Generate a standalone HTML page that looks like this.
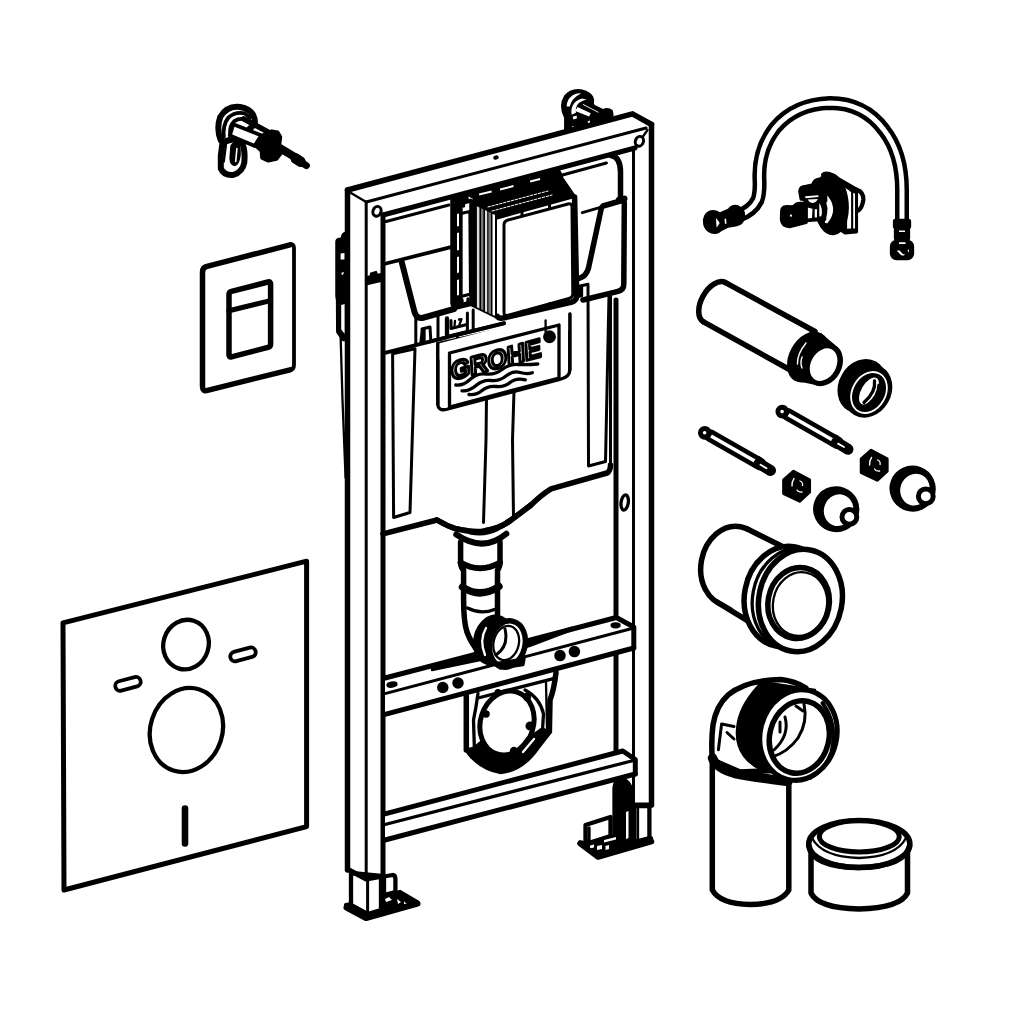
<!DOCTYPE html>
<html lang="en">
<head>
<meta charset="utf-8">
<title>GROHE Rapid SL installation frame - exploded view</title>
<style>
html,body{margin:0;padding:0;background:#fff;}
body{width:1024px;height:1024px;overflow:hidden;font-family:"Liberation Sans",sans-serif;}
svg{display:block;}
.l{fill:none;stroke:#000;stroke-linecap:round;stroke-linejoin:round;}
.w{fill:#fff;stroke:#000;stroke-linecap:round;stroke-linejoin:round;}
.b{fill:#000;stroke:#000;stroke-linecap:round;stroke-linejoin:round;}
.s2{stroke-width:2.3;}
.s25{stroke-width:3;}
.s3{stroke-width:3.3;}
.s35{stroke-width:3.8;}
.s4{stroke-width:4.3;}
.s45{stroke-width:5;}
.s5{stroke-width:5.5;}
.s6{stroke-width:6;}
</style>
</head>
<body>
<svg width="1024" height="1024" viewBox="0 0 1024 1024">
<rect x="0" y="0" width="1024" height="1024" fill="#fff"/>

<!-- ============ FRAME ============ -->
<g id="frame">
<!-- FRAME-BEHIND -->
<g id="wallbracket-top">
<path class="b s2" d="M 565.2 117.5 Q 559.0 105.8 565.2 96.0 Q 572.7 87.8 584.4 91.3 Q 590.2 93.4 592.2 97.3 Q 593.8 100.5 592.8 103.6 L 593.8 105.9 L 603.1 110.3 Q 607.8 107.7 611.7 110.9 L 612.5 115.2 L 610.9 117.5 L 612.5 119.1 L 565.2 130.4 Z"/>
<path fill="#fff" d="M 566.6 106.6 Q 566.6 99.5 572.7 95.2 Q 576.6 92.9 580.9 93.4 Q 575.8 95.8 572.8 99.7 Q 570.2 103.4 569.8 106.6 Z"/>
<path fill="#fff" d="M 571.7 114.8 Q 570.5 108.1 574.2 103.3 Q 577.3 99.5 582.4 98.6 L 586.7 99.7 Q 581.2 100.5 578.3 103.6 Q 575.2 107.3 575.9 112.8 Z"/>
<path fill="#fff" d="M 577.5 107.0 L 590.8 113.2 L 589.1 116.6 L 575.2 111.1 Z"/>
<path fill="#fff" d="M 583.2 103.9 L 598.6 112.0 L 598.3 112.8 L 582.8 104.8 Z"/>
<path fill="#fff" d="M 572.7 116.7 L 576.6 115.5 L 577.0 118.3 L 573.4 119.5 Z M 587.5 121.4 L 589.8 120.6 L 590.2 122.8 L 588.1 123.4 Z M 571.9 126.5 L 573.4 125.9 L 573.8 127.5 L 572.2 128.0 Z"/>
</g>
<g id="sidebracket">
<path class="l s2" d="M340.6 336 L342.5 400 L345.6 478"/>
<path class="b s2" d="M336.4 242 Q336.4 239.5 339 239 L342 238 Q342 233.5 346 233 L347.5 233 L347.5 340 L343 340 L337.2 332 L337 300 L336.4 296 Z"/>
<path fill="#fff" d="M340.6 253.5 L344.6 253 L344.6 259.4 L340.6 259.6 Z M341.6 272.5 L344 272.2 L343 274.8 L341.6 274.8 Z M341.2 305 L344.8 304 L344.8 334 L341.2 329.5 Z"/>
</g>
<!-- FRAME-BACK -->
<!-- fills -->
<path fill="#fff" d="M347.5 190 L632.5 113.8 L651.5 124.5 L651.5 805 L633.5 805 L633.5 760 L616 751 L616 153 L383 214.5 L383 874 L366 877 L347.5 870 Z"/>
<!-- left post -->
<path class="l s5" d="M347.5 190 L347.5 870"/>
<path class="l s25" d="M366.2 202 L366.2 879"/>
<path class="l s45" d="M383 215 L383 875"/>
<!-- right post -->
<path class="l s5" d="M651.5 124.5 L651.5 805"/>
<path class="l s25" d="M633.5 150 L633.5 805"/>
<path class="l s45" d="M616 300 L616 751"/>
<!-- top bar -->
<path class="l s5" d="M347.5 190 L632.5 113.8 L651.5 124.5"/>
<path class="l s25" d="M366.2 202 L646 128"/>
<path class="l s45" d="M383 215 L635 148"/>
<path class="l s2" d="M351 193 L366.2 202"/>
<path class="l s2" d="M635 148 L647.5 130"/>
<ellipse class="w s25" cx="377" cy="211.3" rx="4" ry="5" transform="rotate(20 377 211.3)"/>
<ellipse class="w s25" cx="639.4" cy="141.3" rx="4" ry="5" transform="rotate(20 639.4 141.3)"/>
<ellipse class="b s2" cx="496" cy="157.5" rx="1.6" ry="1" transform="rotate(-15 496 157.5)"/>
<path class="b s2" d="M367.5 277 L371 276 L371 273.5 L376 272 L377 275 L381 274 L381 281 L368 284 Z"/>
<!-- FRAME-END -->
<!-- CISTERN -->
<g id="cistern">
<!-- upper plate -->
<path class="l s25" d="M386 221.5 L449 205"/>
<path class="l s35" d="M386 263.5 L450 247.3"/>
<path class="l s6" d="M401.7 262 L414.5 312 Q416.5 319.5 424 317.5 L454 309"/>
<!-- right top corner -->
<path class="l s5" d="M611 155.5 Q620.5 157 620.5 172 L620.5 199"/>
<path class="l s25" d="M561.6 175.2 L606.4 163"/>
<path class="l s25" d="M582.3 212.6 L603 206.6"/>
<path class="l s5" d="M603 206 L622 200.5 Q624.5 200 624.3 204 L623.8 284 Q623.8 290 618 291.3 L583 300"/>
<path class="l s5" d="M601.4 208 L588.5 268 Q586.5 276 579 278.5"/>
<path class="l s6" d="M619 199.8 L624.5 198.6"/>
<!-- lower body -->
<path class="l s35" d="M386 352.7 L445.7 337.6"/>
<path class="l s35" d="M459 334.4 L504 323.5"/>
<path class="l s5" d="M383 533.8 L437 520 Q447 526 456 528.8 Q470 532 481 531.5 Q500 529 511 520 Q522 512 531 505 Q541 495 551 488.8 L607 473 Q610.5 471 610.5 465"/>
<path class="l s25" d="M610.5 466 L610.5 296"/>
<!-- side panels -->
<path class="l s25" d="M392.6 353.8 L393.6 517.5 L410 512.5 L415 348.8 Z"/>
<path class="l s25" d="M588 286 L588.5 466 L605.5 461.5 L609 295"/>
<!-- channel -->
<path class="l s25" d="M486.5 397.5 L486 440 L483.5 522.5"/>
<path class="l s25" d="M514 391 L512.5 440 L513.5 517.5"/>
<!-- small details under wings -->
<path class="l s25" d="M415.8 343.5 L415.8 318"/>
<path class="l s25" d="M438 339.5 L438 316"/>
<path class="l s25" d="M457.4 334.5 L457.4 352"/>
<path class="b s2" d="M420.5 342.5 L422 329 L424.5 328 L424.5 341.5 Z"/>
<path class="l s25" d="M422 329 L430 327 L430.8 340"/>
<path class="l s4" d="M447 318.5 L447 337"/>
<path class="l s25" d="M447 336.5 L467.4 331.5 L467.4 313"/>
<path class="l s25" d="M451 320.5 L451 328.5 L466 324.8"/>
<path class="l s2" d="M455 321 L454.5 326 M459 319.5 L461.5 319.2 L459.5 324.5"/>
<path class="l s25" d="M473.2 310 L473.2 330"/>
<path class="b s2" d="M577 287 L577 297 L582 296 L582 286 Z"/>
<path class="l s25" d="M579 286.3 L588 284.3"/>
<!-- hole on right post -->
<ellipse class="w s3" cx="624.7" cy="502.5" rx="3.6" ry="7.6" transform="rotate(8 624.7 502.5)"/>
</g>
<!-- CISTERN-END -->
<!-- LABEL -->
<g id="label">
<path class="w s3" d="M437.8 343.5 L437.8 404 Q438 411 446 409.5 L559.7 379.5 Q569.8 377 569.8 370 L569.8 314 L437.8 343.5 Z" />
<path fill="#fff" d="M437.8 343.8 L569.8 309 L569.8 330 L437.8 360 Z"/>
<path class="l s35" d="M430 341.5 L504 323.2"/>
<path class="l s3" d="M437.8 343.5 L437.8 404"/>
<path class="l s3" d="M569.8 314 L569.8 370"/>
<path class="w s3" d="M449.5 353 L559 325 L559 378 L449.5 407 Z"/>
<g style="filter:grayscale(1)"><text x="0" y="0" transform="matrix(1 -0.268 0.06 1 451.5 380.5)" font-family="'Liberation Sans',sans-serif" font-weight="bold" font-size="26" fill="#fff" stroke="#000" stroke-width="3.1" stroke-linejoin="round" textLength="90" lengthAdjust="spacingAndGlyphs">GROHE</text></g>
<circle class="b s2" cx="549.5" cy="336.7" r="5.3"/>
<path class="l s2" d="M545.6 320.5 L545.6 332"/>
<path class="l s3" d="M455.8 385 Q463 386 470 379.5 T486 374 T502 369.5 T518 364.5 T537.8 364"/>
<path class="l s3" d="M462 390.8 Q469 391.5 476 385.5 T491 380.5 T506 376 T520 372.5 T532.3 372.8"/>
<path class="l s3" d="M469 394.5 Q476 395.5 482 390.5 T496 386.5 T510 382.5 T525.3 379.8"/>
</g>
<!-- LABEL-END -->
<!-- BOX -->
<g id="box">
<!-- left small bracket -->
<path class="w s5" d="M453 199 L453 303 Q453 307.5 458 306.5 L472 303 L472 195 Z"/>
<path class="b s2" d="M453 199 L461.5 197 L461.5 304 L455 305.5 Z"/>
<path fill="#fff" d="M457 214 L459 213.5 L459 226 L457 226.5 Z M457 233 L459 232.5 L459 250 L457 250.5 Z M457 257 L459 256.5 L459 272.5 L457 273 Z M457 280 L459 279.5 L459 295 L457 295.5 Z"/>
<path class="l s3" d="M463 213 L470 211.5 L470.6 294 L463 296"/>
<path class="l s3" d="M459 200.5 L459 208 M463.5 199.5 L463.5 206 M462 300 L462 305 M468 299 L468 303.5"/>
<!-- box top (black) -->
<path class="b s3" d="M471.5 199 L558.8 174 L574 196 L497 217.5 Z"/>
<path class="b s4" d="M456 199.5 L474.4 194 L558.8 172 L561 176 L474.4 200 L456 204 Z"/>
<path fill="#fff" d="M479 193.6 L491.5 190.4 L491.7 192.4 L479.2 195.6 Z M500 188.6 L513.4 185 L513.6 187 L500.2 190.6 Z M530 180.6 L540 178 L540.2 180 L530.2 182.6 Z"/>
<path fill="#fff" d="M468.5 196.5 L472.5 198.5 L472.5 200.5 L468.5 198.5 Z"/>
<path class="l" stroke-width="1" stroke-dasharray="2.5 1.5" style="stroke:#fff" d="M488 207 L548 191 M492 211 L552 195"/>
<!-- left striped side -->
<path fill="#000" d="M470.3 198 L497 216.5 L497 319 L470.3 306 Z"/>
<path fill="#ddd" d="M476.9 206.2 L479.4 207.4 L479.4 308.5 L476.9 307.3 Z"/>
<path fill="#777" d="M481 208.2 L483.4 209.4 L483.4 310.5 L481 309.3 Z"/>
<path fill="#ddd" d="M485 210.1 L487.2 211.2 L487.2 312.3 L485 311.2 Z"/>
<path fill="#777" d="M488.4 211.8 L491 213.0 L491 314.1 L488.4 312.9 Z"/>
<path fill="#fff" d="M492.5 213.7 L495 214.9 L495 316.0 L492.5 314.8 Z"/>
<!-- front face -->
<path fill="#fff" d="M497 218.5 L574.4 197.5 L576.7 300.6 L497 319.5 Z"/>
<path class="l s25" d="M497 218 L574.4 196.5"/>
<path class="l s5" d="M574.6 197 L576.7 295.5 Q576.7 300.6 572 302 L504.4 317.8 Q499 319 497.4 316.5"/>
<path class="l s25" d="M504 225 Q504 221 508 220 L568 204 Q572 203 572 207 L572.8 294 Q572.8 297.5 569 298.5 L508 315.3 Q504 316.3 504 312.3 Z"/>
<path class="l s25" d="M522 210.5 L522 215.5 M549.5 203 L549.5 208.5 M523 313.5 L523 311 M550 306.5 L550 303.5"/>
</g>
<!-- BOX-END -->
<!-- FEET -->
<g id="feet">
<!-- left foot -->
<path class="b s4" d="M346 905 L366 916 L417 902 L400 892 L383 896 L383 908 L367.6 912 L351 904 Z"/>
<path class="w s4" d="M351 873 L351 905 L367.6 914 L381 910 L381 876 Z"/>
<path class="l s25" d="M367.6 880 L367.6 914"/>
<path class="l s45" d="M347.6 869.3 L366.1 879 L383 876"/>
<path class="w s4" d="M384 876.5 L392.5 875 Q395.4 875 395.4 879 L395.4 892 L384 895 Z"/>
<path class="b s2" d="M384 897 L400 893 L414 902 L384 910 Z"/>
<path fill="#fff" d="M385 899 L389 897 L392 900 L386 902 Z M397 899 L401 902 L398 904 Z M404 901.5 L408 904.5 L404 905.5 Z"/>
<path class="l s6" d="M346.5 907.5 L366 918 L417.5 903.5"/>
<!-- right foot -->
<path class="w s4" d="M634.5 806 L634.5 842 L649.4 838 L649.4 806 Z"/>
<path class="l s2" d="M638 808 L638 840"/>
<path class="l s45" d="M633.5 805 L651.5 805"/>
<path class="b s3" d="M614 790 Q614 779 622 779 Q631 781 632 792 L632 842 L614 846 Z"/>
<path fill="#fff" d="M626 812 L628.5 811 L628.5 838 L626 839 Z"/>
<path class="w s4" d="M585.5 825 L610.5 817 L610.5 836 L588.5 843 L585.5 840 Z"/>
<path class="l s3" d="M589 828 L589 842"/>
<path class="b s3" d="M580 842 L598 856.5 L651.5 841 L651.5 838 L634 842 L612 846 L612 836 L588 843 Z"/>
<path fill="#fff" d="M590 845.5 L594 844.5 L594 847.5 L590 848.5 Z M597 846 L602 845 L602 849 L597 850 Z M604 840 L616 837 L616 839.5 L604 842.5 Z M605.5 846 L609 845 L609 849 L605.5 850 Z"/>
<path class="l s5" d="M580 843.5 L598 857 L651.5 841.5"/>
</g>
<!-- FEET-END -->
<!-- HOLDER -->
<g id="holder">
<path class="l s5" d="M466.3 696 L466.3 750"/>
<path class="l s3" d="M478 693.5 Q476 708 473.5 720 L474.4 749"/>
<path class="l s3" d="M480 697.5 L552.5 678.8"/>
<path class="l s5" d="M556 672.5 Q554 690 550 700 L549.4 731"/>
<path class="l s2" d="M546 682.5 L547 728"/>
<!-- ring -->
<path class="b s3" d="M466 750 Q478 768 500 772.5 Q522 771 538 748 L550.5 732 L542 729 Q534 735 528 738 Q515 757 500 755.5 Q487 754 481.5 742 L474 748 Z"/>
<ellipse class="l s45" cx="507" cy="723" rx="26.5" ry="32.5" transform="rotate(18 507 723)"/>
<path class="l s3" d="M525 690 Q540 698 543.5 714 L542.5 730"/>
<path class="l s2" style="stroke:#fff" d="M523 752 L534 739" stroke-width="1.8"/>
<circle class="b s2" cx="486" cy="714" r="2.6"/>
<circle class="b s2" cx="483" cy="745" r="3"/>
<circle class="b s2" cx="514" cy="751" r="3"/>
<circle class="b s2" cx="530" cy="726" r="3.4"/>
<circle class="b s2" cx="527" cy="697" r="3"/>
<circle class="b s2" cx="498" cy="692.5" r="2.4"/>
</g>
<!-- HOLDER-END -->
<!-- CROSSBARS -->
<g id="crossbars">
<!-- lower crossbar -->
<path fill="#fff" d="M385 813.8 L622.8 751 L635.3 759.5 L635.3 774 L385 840 Z"/>
<path class="l s45" d="M385 813.8 L622.8 751 L635.3 759.5 L635.3 774"/>
<path class="l s3" d="M385 824.5 L633.5 760.5"/>
<path class="l s45" d="M385 840 L635.3 774"/>
<!-- upper crossbar -->
<path fill="#fff" d="M385 678 L616.3 617.5 L633.8 627 L633.8 648 L385 714.4 Z"/>
<path class="l s45" d="M385 678 L616.3 617.5 L633.8 627 L633.8 648"/>
<path class="b s2" d="M432 667 L480 653.5 L530 641 L572 627.5 L572 630 L530 646 L480 660 L432 670 Z"/>
<path class="l s25" d="M385 693.6 L631 628.8"/>
<path class="l s45" d="M385 714.4 L633.8 648"/>
<ellipse class="b s2" cx="392" cy="684.6" rx="4.5" ry="2" transform="rotate(-8 392 684.6)"/>
<ellipse class="b s2" cx="615.6" cy="625.3" rx="4" ry="2" transform="rotate(0 615.6 625.3)"/>
<circle class="b s2" cx="442.8" cy="687.5" r="4.6"/>
<circle class="b s2" cx="458" cy="683" r="4.6"/>
<circle class="b s2" cx="560" cy="655.6" r="4.6"/>
<circle class="b s2" cx="574.4" cy="651.6" r="4.6"/>
</g>
<!-- CROSSBARS-END -->
<!-- PIPE -->
<g id="pipe">
<!-- neck flange -->
<!-- pipe body -->
<path fill="#fff" d="M460.6 543 L460.6 566 L463.6 570 L463.6 612 Q464 630 478 653 L512 650 L497.5 615 L497.5 570 L500 566 L500 543 Z"/>
<path class="l s5" d="M460.6 542 L460.6 563 Q461 568 463.6 570 L463.6 600 Q463.6 622 467 632 Q471 643 480 654"/>
<path class="l s5" d="M500 542 L500 563 Q499.6 568 497.5 570 L497.5 616"/>
<path class="l s6" d="M460.6 562.5 Q480 574 500 562.5"/>
<path class="l" stroke-width="7.4" d="M462.5 587 Q480 599 499 586.5"/>
<path class="l s3" d="M467.5 608 Q481 615 494.5 609.5"/>
<path fill="#fff" d="M456.3 534.5 Q483.5 553 506.3 533.8 L500 528 L462 528 Z"/>
<path class="l s6" d="M456.3 534.5 Q483.5 553 506.3 533.8"/>
<path class="l s5" d="M437 520 Q447 526 456 528.8 Q470 532 481 531.5 Q500 529 511 520 Q522 512 531 505"/>
<path class="l s25" d="M470 533 Q485 536 497 530 Q505 525.5 510 520"/>
<!-- outlet -->
<ellipse class="b s3" cx="493" cy="640" rx="18" ry="24" transform="rotate(14 493 640)"/>
<path class="l s2" style="stroke:#fff" d="M486 628 Q479 640 485 655" stroke-width="1.6"/>
<ellipse class="w s5" cx="507.4" cy="644" rx="17.6" ry="23.4" transform="rotate(14 507.4 644)"/>
<ellipse class="l s2" cx="506.2" cy="643" rx="12.6" ry="17.4" transform="rotate(14 506.2 643)"/>
<path class="l s25" d="M505 629 Q509 646 496 655"/>
<path class="b s3" d="M494 664 L500 668 L523 664.5 L524 659 Z"/>
</g>
<!-- PIPE-END -->

</g>


<!-- ============ LEFT PARTS ============ -->
<g id="wallbracket-left">
<path class="w s6" d="M 222.6 141.6 L 220.8 155.6 L 220.8 168.5 Q 223.8 175.6 233.1 175.0 Q 242.5 172.0 244.3 162.7 Q 245.4 150.9 242.5 143.9 L 234.3 139.2 Z"/>
<path class="l s2" d="M 226.1 143.3 L 223.8 161.5"/>
<path class="b s2" d="M 231.4 146.3 Q 233.7 141.6 237.8 143.3 Q 240.2 146.3 239.6 155.6 Q 238.4 163.8 234.9 165.0 Q 230.8 165.0 230.5 158.0 Z"/>
<path class="l" style="stroke:#fff" stroke-width="1.6" d="M 236.9 148.6 L 235.7 161.5"/>
<path class="w s6" d="M 220.8 140.4 Q 216.1 128.7 220.2 117.0 Q 227.3 105.2 240.2 107.0 Q 249.5 108.8 253.0 114.6 Q 255.4 119.3 254.8 124.0 L 243.7 134.5 L 224.9 141.6 Z"/>
<path class="l s35" d="M 223.8 136.9 Q 222.6 125.2 228.4 117.5 Q 235.5 111.1 244.8 113.4 L 250.1 117.5"/>
<path class="l s35" d="M 230.2 134.5 Q 229.0 126.3 234.3 121.1 Q 239.0 118.1 244.8 119.3"/>
<path class="w s35" d="M 233.2 124.2 L 263.6 136.3 L 254.8 146 L 229.8 135.6 Z"/>
<path class="l s5" d="M 243.7 118.8 L 268.3 132.2"/>
<path class="b s3" d="M 254.8 145.1 L 260.1 136.9 L 265.9 133.4 L 271.8 131.0 L 277.7 132.2 L 280.6 136.9 L 279.4 146.3 L 281.2 153.3 L 276.5 159.1 L 268.3 160.9 L 261.8 158.0 L 261.3 150.9 Z"/>
<path class="l" stroke-width="8" d="M 277.7 146.8 L 296.4 158.0"/>
<path class="l" stroke-width="10.5" d="M 295.8 158.6 L 300.5 161.7"/>
<path class="l" stroke-width="7" d="M 301.1 162.1 L 306.4 165.6"/>
</g>
<g id="flushplate">
<path fill="#fff" d="M202.5 272 L293 244 L293 369 L202.5 391 Z"/>
<path class="l" stroke-width="5.5" d="M290 244.9 L207 266.4 Q202.5 267.5 202.5 272 L202.5 386.5 Q202.5 391.6 207.5 390.4 L290 369.8"/>
<path class="l s35" d="M290 244.4 Q294 243.6 294 248 L294 365 Q294 369.4 290 370.3"/>
<path class="w s5" d="M229 294.5 Q229 292 231.5 291.3 L268 282 Q270.6 281.3 270.6 284 L270.6 344 Q270.6 346.7 268 347.4 L231.5 356.8 Q229 357.5 229 355 Z"/>
<path class="l s45" d="M229 310.8 L270.6 300.6"/>
</g>
<g id="mat">
<path class="w s45" d="M63 622.8 L306.6 561.2 L306.6 826.6 L64 890 Z"/>
<ellipse class="l s4" cx="186" cy="644.6" rx="22.6" ry="25" transform="rotate(18 186 644.6)"/>
<ellipse class="l s4" cx="186.4" cy="730" rx="36" ry="42.6" transform="rotate(18 186.4 730)"/>
<rect class="l s35" x="115" y="679" width="26" height="9.6" rx="4.8" ry="4.8" transform="rotate(-15 128 683.8)"/>
<rect class="l s35" x="230" y="649.6" width="26" height="9.6" rx="4.8" ry="4.8" transform="rotate(-15 243 654.4)"/>
<path class="l" stroke-width="6.6" d="M185 808.5 L185 843.5"/>
</g>
<!-- LEFT-END -->

<!-- ============ RIGHT PARTS ============ -->
<g id="hose">
<path id="hosepath" class="l" stroke-width="14" d="M738 216 Q752 211 757.5 200 Q760 193 759.5 180 Q758 150 775 128 Q795 104 830 103 Q864 103 884 130 Q902 153 902 190 L902 222"/>
<path class="l" style="stroke:#fff" stroke-width="5" d="M738 216 Q752 211 757.5 200 Q760 193 759.5 180 Q758 150 775 128 Q795 104 830 103 Q864 103 884 130 Q902 153 902 190 L902 222"/>
<!-- left nut + connector -->
<ellipse class="b s2" cx="713.8" cy="222" rx="9.8" ry="11" transform="rotate(-15 713.8 222)"/>
<path fill="#fff" d="M716 218 L720 223 L716.5 227.5 Z"/>
<path class="b s3" d="M720 214 L729 210 Q733 205 738 207 Q744 210 743.5 216 Q743 223 737 224.5 L728 226 L722 229 Z"/>
<path fill="#fff" d="M724.5 219 L726 218.5 L726.5 223.5 L725 224 Z"/>
<!-- right end ferrule + nut -->
<rect class="b s2" x="894" y="220" width="16" height="8" rx="1.5"/>
<rect class="b s2" x="895" y="228" width="14" height="12" rx="2"/>
<path fill="#fff" d="M899 230.5 L905 230.5 L905 232 L899 232 Z"/>
<rect class="b s2" x="891" y="241" width="22" height="18" rx="5.5"/>
<path fill="#fff" d="M899 242.2 L905.5 242.2 L905.5 244 L899 244 Z M897 251 Q899 249 901 252 Q903 255 905 254 L904 255.5 Q901 256 899 253 Z M907.5 250 L909 249.5 L908.5 253 Z"/>
</g>
<g id="valve">
<path class="b s3" d="M 822.7 174.6 Q 824.7 172.2 829.6 173.7 L 856.4 189.3 L 856.4 231.8 L 845.2 232.8 L 838.4 228.4 Z"/>
<path fill="#fff" d="M 841.8 185.9 L 848.1 189.8 L 851.1 192.2 L 851.1 228.4 L 847.1 228.8 L 847.1 208.8 Q 847.1 197.1 841.8 185.9 Z"/>
<path fill="#fff" d="M 853.2 192.7 L 855.0 193.7 L 855.0 228.4 L 853.2 228.6 Z"/>
<path class="l s4" d="M 856.9 189.8 Q 863.8 192.2 863.3 200.0 Q 862.3 207.9 857.9 210.8"/>
<ellipse class="b s2" cx="831.0" cy="203.9" rx="16.6" ry="30.3" transform="rotate(-5 831.0 203.9)"/>
<path fill="#fff" d="M 825.2 193.2 Q 839.8 207.9 827.6 223.0 Q 824.2 224.0 824.9 221.0 Q 831.0 206.9 822.7 195.2 Z"/>
<path class="b s3" d="M 799.8 191.2 Q 800.3 186.4 806.1 186.4 L 813.0 184.9 Q 813.9 179.5 820.8 179.0 L 825.7 182.5 L 825.7 201.0 L 801.2 199.1 Z"/>
<path class="b s2" d="M 804.2 198.6 L 824.7 198.6 L 825.2 219.6 L 806.1 221.0 Z"/>
<path fill="#fff" d="M 805.2 196.3 L 818.3 195.2 L 818.5 197.1 L 805.4 198.3 Z"/>
<path fill="#fff" d="M 807.6 199.6 L 817.9 199.1 Q 815.9 203.0 812.0 203.0 Q 809.1 202.5 807.6 199.6 Z"/>
<path fill="#fff" d="M 807.6 207.4 L 812.5 208.8 L 812.0 218.1 L 807.6 218.6 Z M 814.7 209.3 L 817.1 209.3 L 816.9 217.6 L 814.7 217.6 Z M 819.3 203.0 Q 823.2 208.8 821.3 216.2 L 819.3 216.6 Z"/>
<path class="b s3" d="M 781.7 211.8 Q 781.2 206.9 786.6 206.7 L 793.4 206.9 Q 796.4 202.5 802.2 203.5 L 806.1 205.9 L 806.1 222.5 L 796.4 224.9 L 789.5 226.6 Q 782.2 226.4 781.5 219.6 Z"/>
<circle fill="#fff" cx="791.0" cy="215.7" r="1.1"/>
</g>
<g id="flushpipe">
<ellipse class="w s5" cx="714.5" cy="302.2" rx="13" ry="22.5" transform="rotate(29.2 714.5 302.2)"/>
<path fill="#fff" d="M725.5 285 L815 334 L795 372 L705 320.5 Z"/>
<path class="l s5" d="M725.5 282.6 L815 331.5 M703.5 321.8 L793 371.5"/>
<!-- threaded ring -->
<ellipse class="b s2" cx="808" cy="357" rx="17.5" ry="26" transform="rotate(29 808 357)"/>
<path class="b s2" d="M820.6 334.3 L834.4 345.9 L813.6 383.3 L795.4 379.7 Z"/>
<ellipse class="b s2" cx="824" cy="364.6" rx="16.6" ry="21.4" transform="rotate(29 824 364.6)"/>
<ellipse fill="#fff" cx="823.6" cy="364.6" rx="12.6" ry="17.2" transform="rotate(29 823.6 364.6)"/>
<path class="l" style="stroke:#fff" stroke-width="1.4" d="M806 343 Q797 354 797.5 364 M802 357 Q800 363 802 368"/>
</g>
<g id="seal">
<ellipse class="b s2" cx="862" cy="386" rx="22" ry="27" transform="rotate(30 862 386)"/>
<ellipse class="b s2" cx="868" cy="391" rx="22" ry="26.5" transform="rotate(30 868 391)"/>
<ellipse class="l" style="stroke:#fff" stroke-width="1.8" cx="869" cy="392.5" rx="16.5" ry="21.6" transform="rotate(30 869 392.5)"/>
<ellipse fill="#fff" cx="869" cy="391" rx="7.6" ry="15" transform="rotate(30 869 391)"/>
<path class="l s3" d="M874.5 381 Q876 392 864 402.5"/>
<path class="l s2" d="M878.5 385 Q878 396 868 404.5"/>
</g>
<g id="bolts">
<g id="bolt2">
<path class="l" stroke-width="12.6" d="M710 435.5 L760 464"/>
<path class="l" style="stroke:#fff;stroke-linecap:butt" stroke-width="3.6" d="M711 436 L756 461.7"/>
<circle class="b s2" cx="704.8" cy="432.8" r="5.7"/>
<circle fill="#fff" cx="704.6" cy="432.8" r="1.8"/>
<path class="l" stroke-width="11" d="M759 463.5 L770.5 470.5"/>
<path class="l" style="stroke:#000;stroke-linecap:butt" stroke-width="12.6" d="M755.5 461.3 L758.5 463"/>
<path class="l" style="stroke:#fff" stroke-width="1.8" d="M760.5 464.8 L766.5 468.2"/>
</g>
<g transform="translate(77.5 -21.2)">
<path class="l" stroke-width="12.6" d="M710 435.5 L760 464"/>
<path class="l" style="stroke:#fff;stroke-linecap:butt" stroke-width="3.6" d="M711 436 L756 461.7"/>
<circle class="b s2" cx="704.8" cy="432.8" r="5.7"/>
<circle fill="#fff" cx="704.6" cy="432.8" r="1.8"/>
<path class="l" stroke-width="11" d="M759 463.5 L770.5 470.5"/>
<path class="l" style="stroke:#000;stroke-linecap:butt" stroke-width="12.6" d="M755.5 461.3 L758.5 463"/>
<path class="l" style="stroke:#fff" stroke-width="1.8" d="M760.5 464.8 L766.5 468.2"/>
</g>
</g>
<g id="nuts">
<g id="nut2">
<path class="b s3" d="M793.4 471.5 L809.4 480 L809.4 492 L799.7 501 L783.8 493.5 L783.8 480 Z"/>
<path class="l" style="stroke:#fff" stroke-width="1.3" d="M794 478.5 Q791.5 482 792 486 M800 481 Q803 482 802.5 485.5 M797 490 Q798 492.5 802 492"/>
</g>
<g transform="translate(77.6 -21)">
<path class="b s3" d="M793.4 471.5 L809.4 480 L809.4 492 L799.7 501 L783.8 493.5 L783.8 480 Z"/>
<path class="l" style="stroke:#fff" stroke-width="1.3" d="M794 478.5 Q791.5 482 792 486 M800 481 Q803 482 802.5 485.5 M797 490 Q798 492.5 802 492"/>
</g>
</g>
<g id="caps">
<g id="cap2">
<ellipse class="b s2" cx="836.2" cy="509.2" rx="22" ry="21.8" transform="rotate(20 836.2 509.2)"/>
<ellipse fill="#fff" cx="838.6" cy="510.2" rx="14.6" ry="16" transform="rotate(20 838.6 510.2)"/>
<circle class="w s45" cx="849.4" cy="516.9" r="7.4"/>
</g>
<g transform="translate(76.4 -20.6)">
<ellipse class="b s2" cx="836.2" cy="509.2" rx="22" ry="21.8" transform="rotate(20 836.2 509.2)"/>
<ellipse fill="#fff" cx="838.6" cy="510.2" rx="14.6" ry="16" transform="rotate(20 838.6 510.2)"/>
<circle class="w s45" cx="849.4" cy="516.9" r="7.4"/>
</g>
</g>
<g id="connector">
<ellipse class="w s5" cx="733" cy="566" rx="32" ry="40" transform="rotate(11 733 566)"/>
<path fill="#fff" d="M747.3 531.5 L790 552 L748 617 L718 599.5 Z"/>
<path class="l s5" d="M747.3 529 L788 549.3 M716.7 601.9 L747 620.3"/>
<ellipse class="w s5" cx="785.5" cy="596.5" rx="41" ry="50.5" transform="rotate(11 785.5 596.5)"/>
<ellipse class="w s3" cx="794" cy="599" rx="41.4" ry="51" transform="rotate(11 794 599)"/>
<ellipse class="w s5" cx="800.4" cy="600.5" rx="41.6" ry="51.5" transform="rotate(11 800.4 600.5)"/>
<ellipse class="l s5" cx="798.6" cy="603" rx="30.6" ry="35.6" transform="rotate(11 798.6 603)"/>
<ellipse class="l s2" cx="800" cy="604" rx="27" ry="32" transform="rotate(11 800 604)"/>
</g>
<g id="elbow">
<!-- vertical pipe -->
<path class="w s5" d="M712.3 760 L712.3 890 Q720 904 750 904.5 Q781 904 788.8 890 L788.8 770 Z"/>
<!-- elbow body -->
<path class="w s5" d="M712.3 760 Q711 740 713 725 Q716 706 728 695 Q746 680 781 679.5 Q795 681 806 688 L790 770 L740 772 Z"/>
<path class="l s25" d="M718.4 749.7 L721.6 724 L734 726.5 M727 732.5 L734 739"/>
<!-- black socket band -->
<path class="b s2" d="M762 682 Q742 702 738 722 Q734 742 744 756 Q752 766 762 770 L800 778 L815 690 Z"/>
<!-- collar band -->
<path class="l" stroke-width="9.5" d="M712.5 758 Q716 768 735 773.5 Q756 777.5 788 781.5"/>
<!-- front ring -->
<ellipse class="w s45" cx="798.5" cy="735" rx="38.2" ry="45.7" transform="rotate(14 798.5 735)"/>
<ellipse class="l s5" cx="799.3" cy="737" rx="29.6" ry="36.6" transform="rotate(14 799.3 737)"/>
<path class="l s35" d="M822.5 703 Q838 724 831.5 752 Q825 770 810 778"/>
<!-- interior arcs -->
<path class="l s25" d="M804 704 Q808 722 798 738 Q788 752 772 757"/>
<path class="l s25" d="M785 717 Q790 735 774 750"/>
<path class="l s25" d="M796 706 L803 711 M780 722 L780 732"/>
</g>
<g id="plug">
<path class="w s5" d="M811 848 L811 893 Q818 908 859 909 Q900 908 907.5 893 L907.5 848 Z"/>
<ellipse class="w s5" cx="859.3" cy="844" rx="50.6" ry="23.6"/>
<path class="l s5" d="M809 846 Q812 866.5 859 867.5 Q905 866.5 909.5 846"/>
<path class="l s2" d="M812 838 Q822 857 859 858 Q896 857 906 838"/>
<ellipse class="w s45" cx="859.3" cy="836.4" rx="40" ry="15.6"/>
</g>
<!-- RIGHT-END -->
</svg>
</body>
</html>
